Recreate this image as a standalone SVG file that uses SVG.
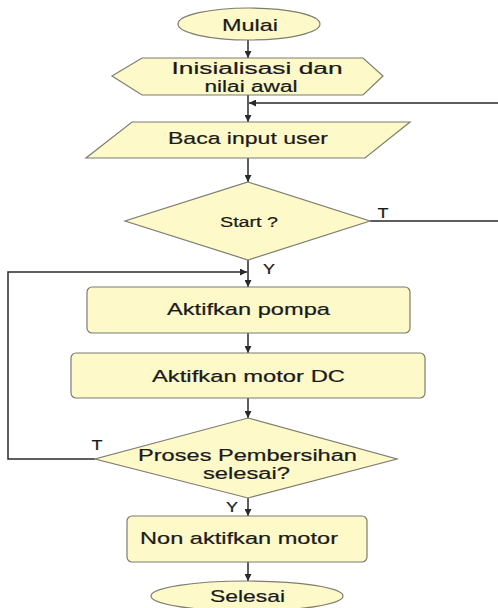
<svg xmlns="http://www.w3.org/2000/svg" width="498" height="608" viewBox="0 0 498 608">
<style>
.shape{fill:#fdf9c8;stroke:#7d7d70;stroke-width:1.2}
.conn{fill:none;stroke:#2a2a2a;stroke-width:1.5}
text{font-family:"Liberation Sans",Arial,sans-serif;font-size:17px;fill:#1a1a1a;text-anchor:middle;stroke:#1a1a1a;stroke-width:0.2}
.two{font-size:15.8px}
.lbl{font-size:15px}
</style>
<defs>
<marker id="ah" viewBox="0 0 10 10" refX="10" refY="5" markerWidth="7" markerHeight="7" markerUnits="userSpaceOnUse" orient="auto">
<path d="M0,0 L10,5 L0,10 z" fill="#2a2a2a"/>
</marker>
</defs>
<rect width="498" height="608" fill="#ffffff"/>
<g id="connectors">
<line class="conn" x1="248" y1="40" x2="248" y2="58" marker-end="url(#ah)"/>
<line class="conn" x1="248" y1="95" x2="248" y2="122" marker-end="url(#ah)"/>
<line class="conn" x1="248" y1="158" x2="248" y2="182" marker-end="url(#ah)"/>
<line class="conn" x1="248" y1="260" x2="248" y2="287" marker-end="url(#ah)"/>
<line class="conn" x1="248" y1="333" x2="248" y2="353" marker-end="url(#ah)"/>
<line class="conn" x1="248" y1="398" x2="248" y2="418" marker-end="url(#ah)"/>
<line class="conn" x1="248" y1="498" x2="248" y2="516" marker-end="url(#ah)"/>
<line class="conn" x1="248" y1="562" x2="248" y2="581" marker-end="url(#ah)"/>
<path class="conn" d="M370,221 H510 V103 H249" marker-end="url(#ah)"/>
<path class="conn" d="M95,459 H8 V272 H247" marker-end="url(#ah)"/>
<text class="lbl" x="383" y="218" textLength="11" lengthAdjust="spacingAndGlyphs">T</text>
<text class="lbl" x="269" y="274" textLength="12" lengthAdjust="spacingAndGlyphs">Y</text>
<text class="lbl" x="97" y="450" textLength="11" lengthAdjust="spacingAndGlyphs">T</text>
<text class="lbl" x="232" y="512" textLength="12" lengthAdjust="spacingAndGlyphs">Y</text>
</g>
<g id="mulai">
<ellipse class="shape" cx="249" cy="24" rx="71" ry="16"/>
<text x="250" y="31" textLength="56" lengthAdjust="spacingAndGlyphs">Mulai</text>
</g>
<g id="inisialisasi">
<polygon class="shape" points="142,58 363,58 383,76 363,95 142,95 112,76"/>
<text class="two" x="257" y="74" textLength="171" lengthAdjust="spacingAndGlyphs">Inisialisasi dan</text>
<text class="two" x="251" y="92" textLength="93" lengthAdjust="spacingAndGlyphs">nilai awal</text>
</g>
<g id="baca">
<polygon class="shape" points="132,122 410,122 365,158 86,158"/>
<text x="248" y="144" textLength="160" lengthAdjust="spacingAndGlyphs">Baca input user</text>
</g>
<g id="start">
<polygon class="shape" points="248,182 370,221 248,260 125,221"/>
<text x="249" y="227" style="font-size:14px" textLength="58" lengthAdjust="spacingAndGlyphs">Start ?</text>
</g>
<g id="pompa">
<rect class="shape" x="87" y="287" width="323" height="46" rx="5"/>
<text x="248.5" y="315" textLength="163" lengthAdjust="spacingAndGlyphs">Aktifkan pompa</text>
</g>
<g id="motor">
<rect class="shape" x="71" y="353" width="354" height="45" rx="5"/>
<text x="248.5" y="382" textLength="193" lengthAdjust="spacingAndGlyphs">Aktifkan motor DC</text>
</g>
<g id="proses">
<polygon class="shape" points="248,418 397,459 248,498 95,459"/>
<text class="two" x="247.5" y="461" textLength="219" lengthAdjust="spacingAndGlyphs">Proses Pembersihan</text>
<text class="two" x="246.5" y="479" textLength="87" lengthAdjust="spacingAndGlyphs">selesai?</text>
</g>
<g id="nonaktif">
<rect class="shape" x="127" y="516" width="240" height="46" rx="5"/>
<text x="239" y="544" textLength="198" lengthAdjust="spacingAndGlyphs">Non aktifkan motor</text>
</g>
<g id="selesai">
<ellipse class="shape" cx="247" cy="596" rx="96" ry="15"/>
<text x="247.5" y="602" textLength="75" lengthAdjust="spacingAndGlyphs">Selesai</text>
</g>
</svg>
